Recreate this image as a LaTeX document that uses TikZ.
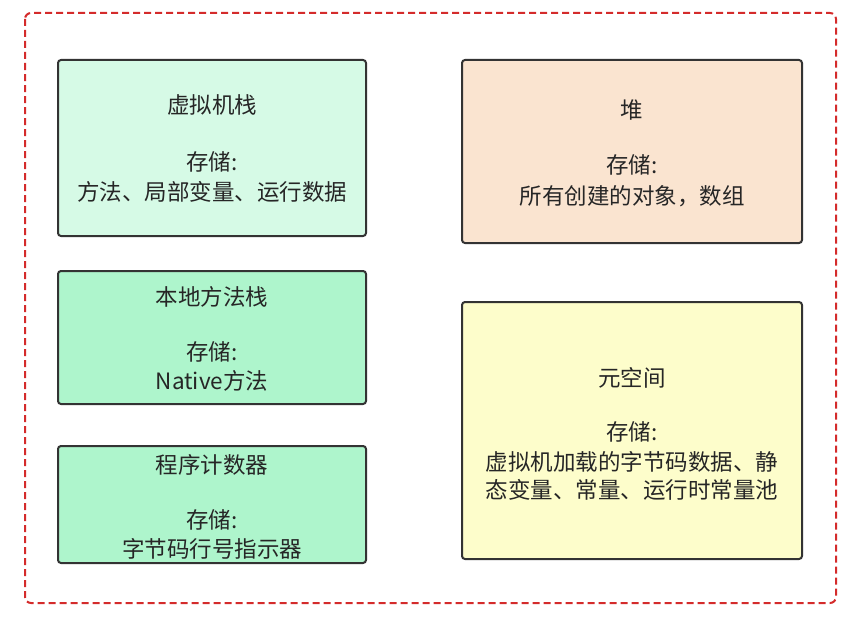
\documentclass[tikz,border=0pt]{standalone}
\usepackage{fontspec}
\setmainfont{Noto Sans CJK SC}
\definecolor{frame}{HTML}{D42B2B}
\definecolor{c1}{HTML}{D6FAE6}
\definecolor{c2}{HTML}{AEF5CC}
\definecolor{c3}{HTML}{FAE4D0}
\definecolor{c4}{HTML}{FDFDCB}
\definecolor{edge}{HTML}{333333}
\tikzset{box/.style={draw=edge,line width=2pt,rounded corners=3pt},
 txt/.style={font=\fontsize{22.5}{28}\selectfont,text=black!85,align=center}}
\begin{document}
\begin{tikzpicture}[x=1pt,y=-1pt]
\useasboundingbox (0,0) rectangle (864,618);
\draw[frame,line width=2pt,rounded corners=6pt,dash pattern=on 7pt off 4pt] (25,13) rectangle (836,603);
\draw[box,fill=c1] (58,60) rectangle (366,236);
\draw[box,fill=c2] (58,271) rectangle (366,404);
\draw[box,fill=c2] (58,446) rectangle (366,563);
\draw[box,fill=c3] (462,60) rectangle (802,243);
\draw[box,fill=c4] (462,302) rectangle (802,559);
\node[txt] (a1) at (212,105) {虚拟机栈};
\node[txt] (a2) at (212,162) {存储:};
\node[txt] (a3) at (212,192) {方法、局部变量、运行数据};
\node[txt] (b1) at (212,297) {本地方法栈};
\node[txt] (b2) at (212,352) {存储:};
\node[txt] (b3) at (212,381) {Native方法};
\node[txt] (c1n) at (212,465) {程序计数器};
\node[txt] (c2n) at (212,520) {存储:};
\node[txt] (c3n) at (212,549) {字节码行号指示器};
\node[txt] (d1) at (632,110) {堆};
\node[txt] (d2) at (632,165) {存储:};
\node[txt] (d3) at (632,196) {所有创建的对象，数组};
\node[txt] (e1) at (632,378) {元空间};
\node[txt] (e2) at (632,432) {存储:};
\node[txt] (e3) at (632,476) {虚拟机加载的字节码数据、静\\态变量、常量、运行时常量池};
\end{tikzpicture}
\end{document}
